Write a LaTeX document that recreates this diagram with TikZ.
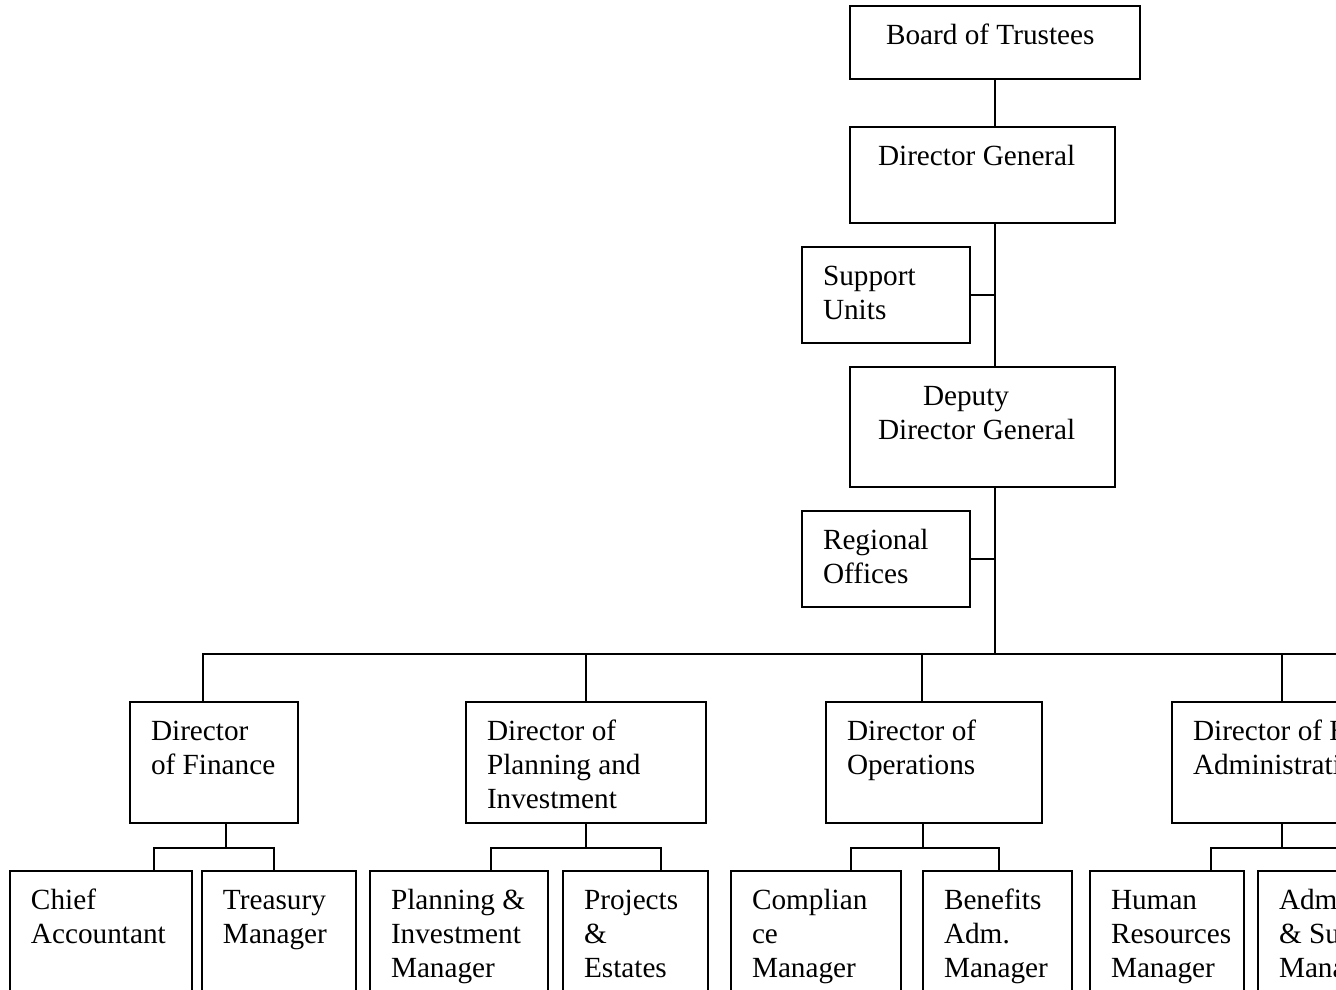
\documentclass[tikz,border=0pt]{standalone}
\usepackage{fontspec}
\setmainfont{Liberation Serif}
\usetikzlibrary{calc}
\newlength{\px}
\setlength{\px}{0.4pt}
% box text: [indent]{width}{height}{text}, top aligned
\newcommand{\post}[4][21]{\parbox[c][#3\px][t]{#2\px}{\raggedright\leftskip=#1\px\relax\rule{0pt}{38\px}#4}}

\begin{document}
\begin{tikzpicture}[x=0.4pt,y=-0.4pt,
    unit/.style={draw,line width=0.8pt,inner sep=0pt,anchor=north west,
      font=\fontsize{11.7pt}{13.6pt}\selectfont},
    link/.style={line width=0.8pt}]
  \path[use as bounding box] (0,0) rectangle (1336,989);
  \clip (0,0) rectangle (1336,989);

  % top of the chart
  \node[unit] (board) at (849,5) {\post[36]{290}{73}{Board of Trustees}};
  \node[unit] (dg) at (849,126) {\post[28]{265}{96}{Director General}};
  \node[unit] (support) at (801,246) {\post{168}{96}{Support\\Units}};
  \node[unit] (ddg) at (849,366) {\post[28]{265}{120}{\hspace*{45\px}Deputy\\Director General}};
  \node[unit] (regional) at (801,510) {\post{168}{96}{Regional\\Offices}};

  % directors
  \node[unit] (finance) at (129,701) {\post{168}{121}{Director\\of Finance}};
  \node[unit] (planning) at (465,701) {\post{240}{121}{Director of\\Planning and\\Investment}};
  \node[unit] (operations) at (825,701) {\post{216}{121}{Director of\\Operations}};
  \node[unit] (admin) at (1171,701) {\post{220}{121}{\mbox{Director of HR \&}\\Administration}};

  % managers
  \node[unit] (chief) at (9,870) {\post{182}{150}{Chief\\Accountant}};
  \node[unit] (treasury) at (201,870) {\post{154}{150}{Treasury\\Manager}};
  \node[unit] (pim) at (369,870) {\post{178}{150}{Planning \&\\Investment\\Manager}};
  \node[unit] (projects) at (562,870) {\post{145}{150}{Projects\\\&\\Estates}};
  \node[unit] (compliance) at (730,870) {\post{170}{150}{Complian\\ce\\Manager}};
  \node[unit] (benefits) at (922,870) {\post{149}{150}{Benefits\\Adm.\\Manager}};
  \node[unit] (hr) at (1089,870) {\post{154}{150}{Human\\Resources\\Manager}};
  \node[unit] (admsup) at (1257,870) {\post{160}{150}{Admin.\\\& Support\\Manager}};

  % spine
  \coordinate (bus) at (board.south |- 0,654);
  \coordinate (bus-end) at (1380,654);
  \draw[link] (board.south) -- (board.south |- dg.north);
  \draw[link] (board.south |- dg.south) -- (board.south |- ddg.north);
  \draw[link] (support.east) -- (support.east -| board.south);
  \draw[link] (board.south |- ddg.south) -- (bus);
  \draw[link] (regional.east) -- (regional.east -| board.south);

  % bus to the directors
  \coordinate (fin-top) at ($(finance.north)+(-11,0)$);
  \coordinate (ops-top) at ($(operations.north)+(-12,0)$);
  \draw[link] (fin-top) |- (bus-end);
  \draw[link] (planning.north) -- (planning.north |- bus);
  \draw[link] (ops-top) -- (ops-top |- bus);
  \draw[link] (admin.north) -- (admin.north |- bus);

  % directors to managers
  \coordinate (fin-j) at ($(finance.south)+(12,24)$);
  \draw[link] (fin-j |- finance.south) -- (fin-j);
  \draw[link] ($(chief.north)+(53,0)$) |- (fin-j) -| ($(treasury.north)+(-5,0)$);

  \coordinate (pln-j) at ($(planning.south)+(0,24)$);
  \draw[link] (planning.south) -- (pln-j);
  \draw[link] ($(pim.north)+(32,0)$) |- (pln-j) -| ($(projects.north)+(25,0)$);

  \coordinate (ops-j) at ($(operations.south)+(-11,24)$);
  \draw[link] (ops-j |- operations.south) -- (ops-j);
  \draw[link] ($(compliance.north)+(35,0)$) |- (ops-j) -| ($(benefits.north)+(1,0)$);

  \coordinate (adm-j) at ($(admin.south)+(0,24)$);
  \draw[link] (admin.south) -- (adm-j);
  \draw[link] ($(hr.north)+(44,0)$) |- (adm-j) -| ($(admsup.north)+(16,0)$);
\end{tikzpicture}
\end{document}
